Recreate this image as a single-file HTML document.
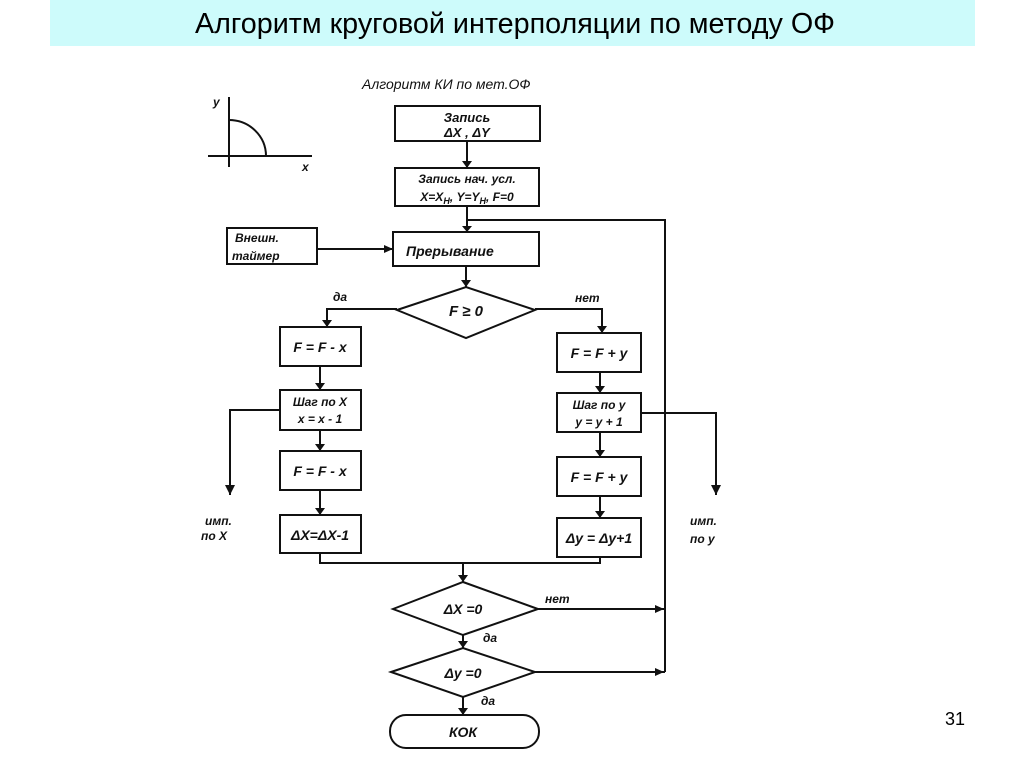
<!DOCTYPE html>
<html><head><meta charset="utf-8"><style>
body{margin:0;background:#fff;width:1024px;height:767px;overflow:hidden}
svg{display:block}
.t{font-family:"Liberation Sans","DejaVu Sans",sans-serif;font-style:italic;font-weight:bold;fill:#111}
</style></head><body>
<svg width="1024" height="767" viewBox="0 0 1024 767" xmlns="http://www.w3.org/2000/svg">
<rect x="50" y="0" width="925" height="46" fill="#cdfbfb"/>
<text x="515" y="33" text-anchor="middle" font-family="Liberation Sans,sans-serif" font-size="29" textLength="640" lengthAdjust="spacingAndGlyphs" fill="#000">Алгоритм круговой интерполяции по методу ОФ</text>
<text x="945" y="725" font-family="Liberation Sans,sans-serif" font-size="18" fill="#000">31</text>
<g stroke="#111" stroke-width="2" fill="none">
<line x1="229" y1="97" x2="229" y2="167"/><line x1="208" y1="156" x2="312" y2="156"/>
<path d="M229 120 A37 36 0 0 1 266 156"/>
<rect x="395" y="106" width="145" height="35"/>
<rect x="395" y="168" width="144" height="38"/>
<rect x="393" y="232" width="146" height="34"/>
<rect x="227" y="228" width="90" height="36"/>
<polygon points="397,310 466,287 535,310 466,338"/>
<rect x="280" y="327" width="81" height="39"/>
<rect x="280" y="390" width="81" height="40"/>
<rect x="280" y="451" width="81" height="39"/>
<rect x="280" y="515" width="81" height="38"/>
<rect x="557" y="333" width="84" height="39"/>
<rect x="557" y="393" width="84" height="39"/>
<rect x="557" y="457" width="84" height="39"/>
<rect x="557" y="518" width="84" height="39"/>
<polygon points="393,609 463,582 538,609 463,635"/>
<polygon points="391,672 463,648 535,672 463,697"/>
<rect x="390" y="715" width="149" height="33" rx="16"/>
<line x1="467" y1="141" x2="467" y2="168"/>
<line x1="467" y1="206" x2="467" y2="232"/>
<polyline points="467,220 665,220 665,672"/>
<line x1="317" y1="249" x2="393" y2="249"/>
<line x1="466" y1="266" x2="466" y2="287"/>
<polyline points="397,309 327,309 327,327"/>
<polyline points="535,309 602,309 602,333"/>
<line x1="320" y1="366" x2="320" y2="390"/>
<line x1="320" y1="430" x2="320" y2="451"/>
<line x1="320" y1="490" x2="320" y2="515"/>
<line x1="600" y1="372" x2="600" y2="393"/>
<line x1="600" y1="432" x2="600" y2="457"/>
<line x1="600" y1="496" x2="600" y2="518"/>
<polyline points="280,410 230,410 230,495"/>
<polyline points="641,413 716,413 716,495"/>
<polyline points="320,553 320,563 600,563 600,557"/>
<line x1="463" y1="563" x2="463" y2="582"/>
<line x1="538" y1="609" x2="665" y2="609"/>
<line x1="535" y1="672" x2="665" y2="672"/>
<line x1="463" y1="635" x2="463" y2="648"/>
<line x1="463" y1="697" x2="463" y2="715"/>
</g>
<g fill="#111">
<polygon points="462,161 472,161 467,168"/>
<polygon points="462,226 472,226 467,232"/>
<polygon points="384,245 384,253 393,249"/>
<polygon points="461,280 471,280 466,287"/>
<polygon points="322,320 332,320 327,327"/>
<polygon points="597,326 607,326 602,333"/>
<polygon points="315,383 325,383 320,390"/>
<polygon points="315,444 325,444 320,451"/>
<polygon points="315,508 325,508 320,515"/>
<polygon points="595,386 605,386 600,393"/>
<polygon points="595,450 605,450 600,457"/>
<polygon points="595,511 605,511 600,518"/>
<polygon points="225,485 235,485 230,495"/>
<polygon points="711,485 721,485 716,495"/>
<polygon points="458,575 468,575 463,582"/>
<polygon points="655,605 655,613 664,609"/>
<polygon points="655,668 655,676 664,672"/>
<polygon points="458,641 468,641 463,648"/>
<polygon points="458,708 468,708 463,715"/>
</g>
<g class="t" font-size="13">
<text x="362" y="89" font-size="14" font-weight="normal">Алгоритм  КИ  по мет.ОФ</text>
<text x="213" y="106" font-size="12">y</text>
<text x="302" y="171" font-size="12">x</text>
<text x="467" y="122" text-anchor="middle">Запись</text>
<text x="467" y="137" text-anchor="middle">ΔX , ΔY</text>
<text x="467" y="183" text-anchor="middle" font-size="12">Запись нач. усл.</text>
<text x="467" y="201" text-anchor="middle" font-size="12">X=X<tspan font-size="9" dy="3">Н</tspan><tspan dy="-3">, Y=Y</tspan><tspan font-size="9" dy="3">Н</tspan><tspan dy="-3">,  F=0</tspan></text>
<text x="406" y="256" font-size="14">Прерывание</text>
<text x="235" y="242" font-size="12">Внешн.</text>
<text x="232" y="260" font-size="12">таймер</text>
<text x="466" y="316" text-anchor="middle" font-size="15">F ≥ 0</text>
<text x="333" y="301" font-size="12">да</text>
<text x="575" y="302" font-size="12">нет</text>
<text x="320" y="352" text-anchor="middle" font-size="14">F = F - x</text>
<text x="320" y="406" text-anchor="middle" font-size="12">Шаг по X</text>
<text x="320" y="423" text-anchor="middle" font-size="12">x = x - 1</text>
<text x="320" y="476" text-anchor="middle" font-size="14">F = F - x</text>
<text x="320" y="540" text-anchor="middle" font-size="14">ΔX=ΔX-1</text>
<text x="599" y="358" text-anchor="middle" font-size="14">F = F + y</text>
<text x="599" y="409" text-anchor="middle" font-size="12">Шаг по y</text>
<text x="599" y="426" text-anchor="middle" font-size="12">y = y + 1</text>
<text x="599" y="482" text-anchor="middle" font-size="14">F = F + y</text>
<text x="599" y="543" text-anchor="middle" font-size="14">Δy = Δy+1</text>
<text x="205" y="525" font-size="12">имп.</text>
<text x="201" y="540" font-size="12">по X</text>
<text x="690" y="525" font-size="12">имп.</text>
<text x="690" y="543" font-size="12">по y</text>
<text x="463" y="614" text-anchor="middle" font-size="14">ΔX =0</text>
<text x="545" y="603" font-size="12">нет</text>
<text x="483" y="642" font-size="12">да</text>
<text x="463" y="678" text-anchor="middle" font-size="14">Δy =0</text>
<text x="481" y="705" font-size="12">да</text>
<text x="463" y="737" text-anchor="middle" font-size="14">КОК</text>
</g>
</svg>
</body></html>
